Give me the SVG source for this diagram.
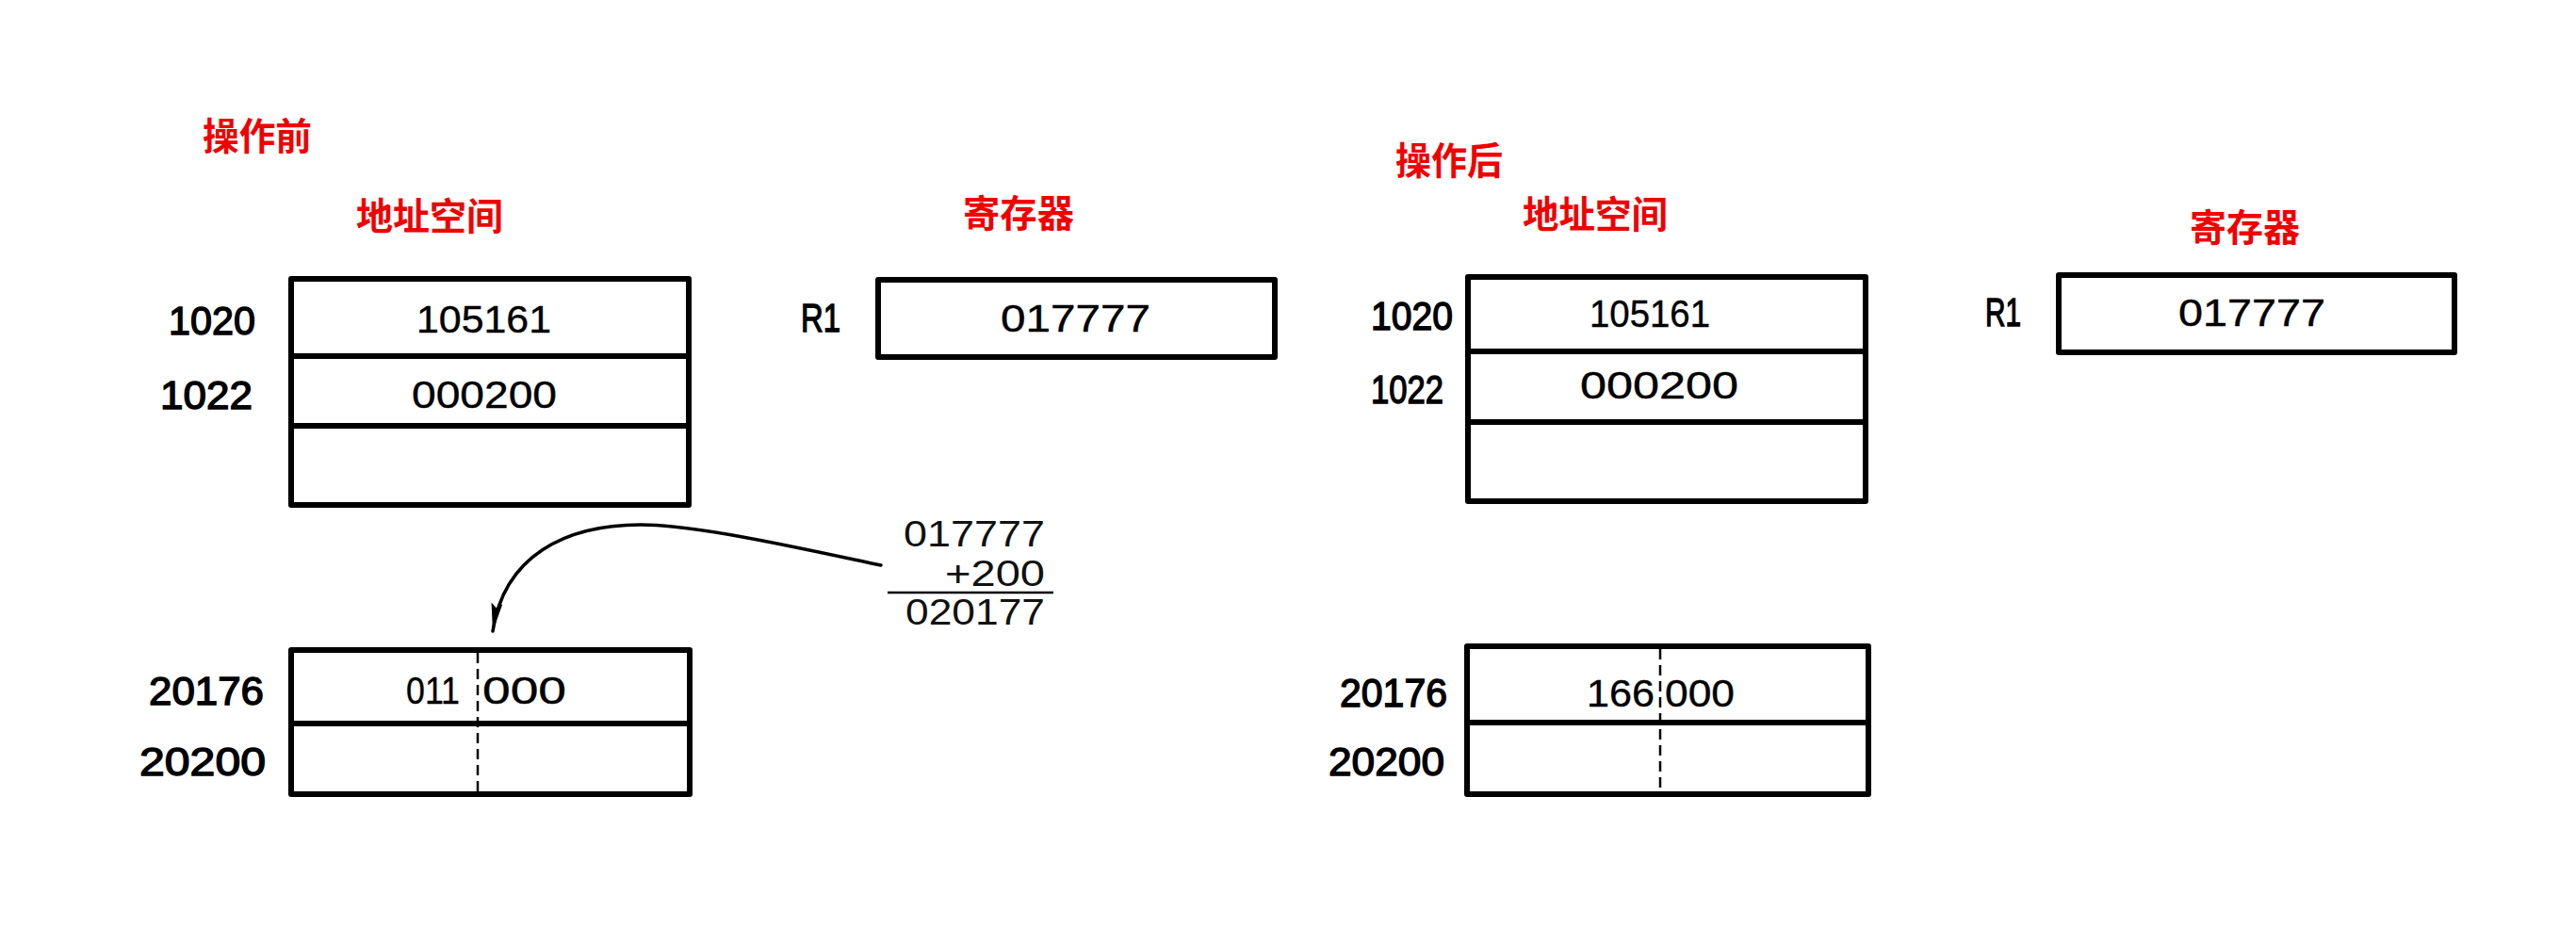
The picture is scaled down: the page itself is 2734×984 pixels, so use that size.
<svg xmlns="http://www.w3.org/2000/svg" width="2734" height="984" viewBox="0 0 2734 984">
<style>
.title{font-family:"Noto Sans CJK SC","Noto Sans CJK TC",sans-serif;font-weight:bold;font-size:40px;fill:#f00000}
.lbl{font-family:"Liberation Sans","DejaVu Sans",sans-serif;font-size:42px;fill:#000;stroke:#000;stroke-width:1.4}
.val{font-family:"Liberation Sans","DejaVu Sans",sans-serif;font-size:40px;fill:#000;stroke:#000;stroke-width:0.4}
.eq{font-family:"Liberation Sans","DejaVu Sans",sans-serif;font-size:38px;fill:#111}
.cell{fill:#fff;stroke:#000;stroke-width:6;stroke-linejoin:round}
.dash{stroke:#000;stroke-width:2.5;stroke-dasharray:11 6;fill:none}
.conn{fill:none;stroke:#000;stroke-width:3.5;stroke-linecap:round}
</style>
<defs>
<marker id="arrow" markerUnits="userSpaceOnUse" markerWidth="32" markerHeight="14" refX="30" refY="7" orient="auto">
<path d="M0,1 L30,7 L0,13 L5,7 z" fill="#000"/>
</marker>
</defs>
<rect width="2734" height="984" fill="#fff"/>

<g id="titles">
<text class="title" x="215" y="159" textLength="116" lengthAdjust="spacingAndGlyphs">操作前</text>
<text class="title" x="378" y="244" textLength="156" lengthAdjust="spacingAndGlyphs">地址空间</text>
<text class="title" x="1022" y="241" textLength="118" lengthAdjust="spacingAndGlyphs">寄存器</text>
<text class="title" x="1481" y="185" textLength="114" lengthAdjust="spacingAndGlyphs">操作后</text>
<text class="title" x="1616" y="242" textLength="154" lengthAdjust="spacingAndGlyphs">地址空间</text>
<text class="title" x="2324" y="256" textLength="117" lengthAdjust="spacingAndGlyphs">寄存器</text>
</g>

<g id="mem-before">
<rect class="cell" x="309" y="296" width="422" height="82"/>
<rect class="cell" x="309" y="378" width="422" height="74"/>
<rect class="cell" x="309" y="452" width="422" height="84"/>
<text class="lbl" x="271" y="355" text-anchor="end" textLength="92" lengthAdjust="spacingAndGlyphs">1020</text>
<text class="lbl" x="268" y="434" text-anchor="end" textLength="98" lengthAdjust="spacingAndGlyphs">1022</text>
<text class="val" x="442" y="353" textLength="143" lengthAdjust="spacingAndGlyphs">105161</text>
<text class="val" x="437" y="433" textLength="154" lengthAdjust="spacingAndGlyphs">000200</text>
</g>

<g id="reg-before">
<rect class="cell" x="932" y="297" width="421" height="82"/>
<text class="lbl" x="850" y="352" textLength="42" lengthAdjust="spacingAndGlyphs">R1</text>
<text class="val" x="1062" y="352" textLength="159" lengthAdjust="spacingAndGlyphs">017777</text>
</g>

<g id="calc">
<text class="eq" x="959" y="580" textLength="150" lengthAdjust="spacingAndGlyphs">017777</text>
<text class="eq" x="1003" y="622" textLength="106" lengthAdjust="spacingAndGlyphs">+200</text>
<line x1="942" y1="629" x2="1118" y2="629" stroke="#000" stroke-width="2.5"/>
<text class="eq" x="961" y="663" textLength="148" lengthAdjust="spacingAndGlyphs">020177</text>
</g>

<g id="mem-before-target">
<rect class="cell" x="309" y="690" width="423" height="78"/>
<rect class="cell" x="309" y="768" width="423" height="75"/>
<line class="dash" x1="507" y1="693" x2="507" y2="840"/>
<text class="lbl" x="280" y="748" text-anchor="end" textLength="122" lengthAdjust="spacingAndGlyphs">20176</text>
<text class="lbl" x="282" y="823" text-anchor="end" textLength="134" lengthAdjust="spacingAndGlyphs">20200</text>
<text class="val" x="488" y="747" text-anchor="end" textLength="57" lengthAdjust="spacingAndGlyphs">011</text>
<text class="val" x="512" y="747" textLength="89" lengthAdjust="spacingAndGlyphs">000</text>
</g>

<g id="mem-after">
<rect class="cell" x="1558" y="294" width="422" height="79"/>
<rect class="cell" x="1558" y="373" width="422" height="75"/>
<rect class="cell" x="1558" y="448" width="422" height="84"/>
<text class="lbl" x="1542" y="350" text-anchor="end" textLength="87" lengthAdjust="spacingAndGlyphs">1020</text>
<text class="lbl" x="1532" y="428" text-anchor="end" textLength="77" lengthAdjust="spacingAndGlyphs">1022</text>
<text class="val" x="1687" y="347" textLength="128" lengthAdjust="spacingAndGlyphs">105161</text>
<text class="val" x="1677" y="423" textLength="168" lengthAdjust="spacingAndGlyphs">000200</text>
</g>

<g id="reg-after">
<rect class="cell" x="2185" y="292" width="420" height="82"/>
<text class="lbl" x="2107" y="346" textLength="38" lengthAdjust="spacingAndGlyphs">R1</text>
<text class="val" x="2312" y="346" textLength="156" lengthAdjust="spacingAndGlyphs">017777</text>
</g>

<g id="mem-after-target">
<rect class="cell" x="1557" y="686" width="426" height="81"/>
<rect class="cell" x="1557" y="767" width="426" height="76"/>
<line class="dash" x1="1762" y1="689" x2="1762" y2="840"/>
<text class="lbl" x="1536" y="750" text-anchor="end" textLength="114" lengthAdjust="spacingAndGlyphs">20176</text>
<text class="lbl" x="1533" y="823" text-anchor="end" textLength="123" lengthAdjust="spacingAndGlyphs">20200</text>
<text class="val" x="1756" y="750" text-anchor="end" textLength="72" lengthAdjust="spacingAndGlyphs">166</text>
<text class="val" x="1767" y="750" textLength="74" lengthAdjust="spacingAndGlyphs">000</text>
</g>

<g id="connectors">
<path class="conn" d="M935,600 C850,582 740,557 680,557 C600,557 535,590 523,670" marker-end="url(#arrow)"/>
</g>
</svg>
